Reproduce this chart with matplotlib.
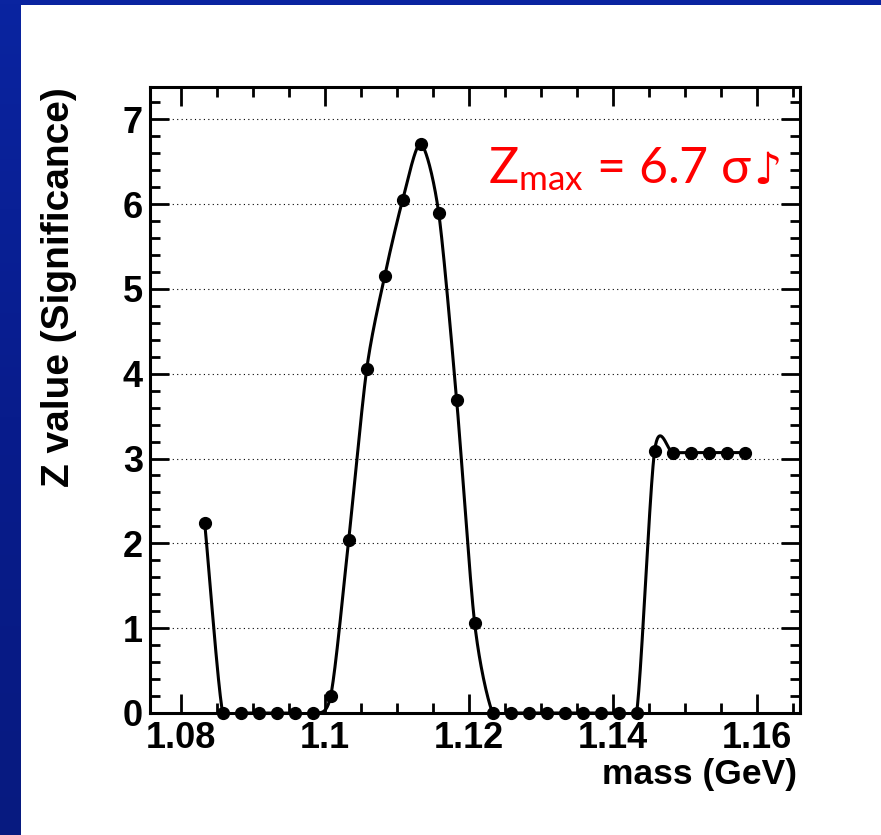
import matplotlib
matplotlib.use("Agg")
import matplotlib.pyplot as plt
import numpy as np
from matplotlib.patches import Rectangle
from matplotlib.ticker import MultipleLocator, FuncFormatter

mass = [1.0833, 1.0858, 1.0883, 1.0908, 1.0933, 1.0958, 1.0983, 1.1008,
        1.1033, 1.1058, 1.1083, 1.1108, 1.1133, 1.1158, 1.1183, 1.1208,
        1.1233, 1.1258, 1.1283, 1.1308, 1.1333, 1.1358, 1.1383, 1.1408,
        1.1433, 1.1458, 1.1483, 1.1508, 1.1533, 1.1558, 1.1583]
zval = [2.24, 0, 0, 0, 0, 0, 0, 0.2,
        2.04, 4.05, 5.15, 6.05, 6.71, 5.9, 3.69, 1.06,
        0, 0, 0, 0, 0, 0, 0, 0,
        0, 3.09, 3.07, 3.07, 3.07, 3.07, 3.07]
xticks = [1.08, 1.10, 1.12, 1.14, 1.16]
yticks = [0, 1, 2, 3, 4, 5, 6, 7]


def catmull_rom(P, n=60, k=0.8):
    # cardinal spline through the points (screen space), ends extrapolated
    P = np.vstack([2 * P[0] - P[1], P, 2 * P[-1] - P[-2]])
    s = np.linspace(0, 1, n)[:, None]
    h00 = 2 * s**3 - 3 * s**2 + 1
    h10 = s**3 - 2 * s**2 + s
    h01 = -2 * s**3 + 3 * s**2
    h11 = s**3 - s**2
    out = []
    for i in range(1, len(P) - 2):
        m1 = k * (P[i + 1] - P[i - 1]) / 2
        m2 = k * (P[i + 2] - P[i]) / 2
        out.append(h00 * P[i] + h10 * m1 + h01 * P[i + 1] + h11 * m2)
    return np.vstack(out)


fig = plt.figure(figsize=(8.81, 8.35), dpi=100)

# blue slide background
bg = fig.add_axes([0, 0, 1, 1], zorder=-10)
grad = np.linspace(0, 1, 200)[:, None] * np.ones((1, 50))
bg.imshow(grad, aspect="auto", extent=[0, 1, 0, 1],
          cmap=matplotlib.colors.LinearSegmentedColormap.from_list("b", ["#0a24a0", "#081c8c", "#071a80"]))
bg.axis("off")
fig.patches.append(Rectangle((21 / 881, 0), 1, 830 / 835, transform=fig.transFigure,
                             facecolor="white", edgecolor="none", zorder=-5))

ax = fig.add_axes([150 / 881, 122 / 835, 650 / 881, 626 / 835])
ax.set_xlim(1.0757, 1.166)
ax.set_ylim(0, 7.38)
ax.set_facecolor("none")

# smooth curve through the points
px = ax.transData.transform(np.column_stack([mass, zval]))
curve = ax.transData.inverted().transform(catmull_rom(px))
ax.plot(curve[:, 0], curve[:, 1], color="black", lw=2.2, zorder=3)
ax.plot(mass, zval, "o", color="black", ms=8.5, clip_on=False, zorder=5)

for y in yticks[1:]:
    ax.axhline(y, color="black", lw=0.8, ls=(0, (1, 3)), zorder=1)

ax.set_xticks(xticks)
ax.set_yticks(yticks)
ax.xaxis.set_minor_locator(MultipleLocator(0.005))
ax.yaxis.set_minor_locator(MultipleLocator(0.2))
ax.xaxis.set_major_formatter(FuncFormatter(lambda v, p: "%g" % round(v, 3)))
ax.tick_params(which="both", direction="in", top=True, right=True, width=2)
ax.tick_params(which="major", length=14)
ax.tick_params(which="minor", length=7)
ax.tick_params(axis="x", pad=6)
ax.tick_params(axis="y", pad=5)
for lab in ax.get_xticklabels() + ax.get_yticklabels():
    lab.set_fontfamily("Liberation Sans")
    lab.set_fontweight("bold")
    lab.set_fontsize(26)
for s in ax.spines.values():
    s.set_linewidth(2.2)

ax.set_xlabel("mass (GeV)", loc="right", fontsize=25.5, fontweight="bold", family="Liberation Sans")
ax.xaxis.set_label_coords(0.995, -0.072)
ax.set_ylabel("Z value (Significance)", loc="top", fontsize=28, fontweight="bold", family="Liberation Sans")
ax.yaxis.set_label_coords(-0.112, 1.0)

plt.rcParams["mathtext.fontset"] = "custom"
plt.rcParams["mathtext.rm"] = "Lato"
zt = ax.text(0.52, 0.847, r"$\mathrm{Z_{max}}$ = 6.7 σ", transform=ax.transAxes,
             color="#ff0000", fontsize=36, family=["Lato", "DejaVu Sans"], va="baseline")
ax.annotate("♪", xy=(1, 0), xycoords=zt, xytext=(1, 0), textcoords="offset points",
            color="#ff0000", fontsize=32, family="DejaVu Sans", va="bottom")

fig.savefig("out.png", dpi=100)
